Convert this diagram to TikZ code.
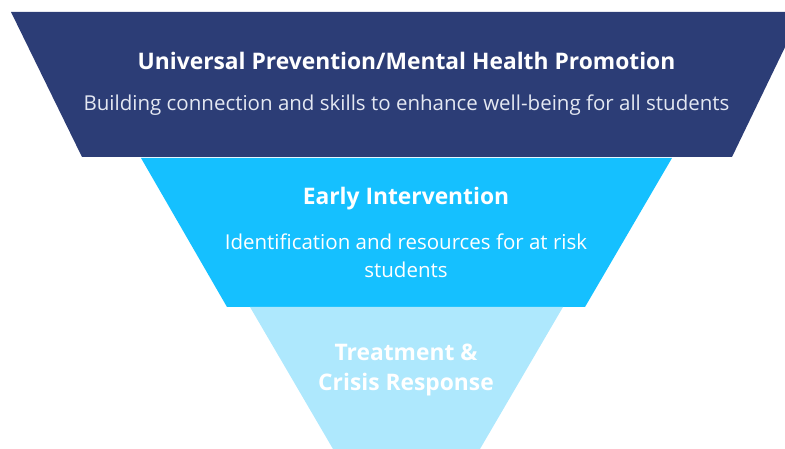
\documentclass[tikz,border=0pt]{standalone}
\usepackage{fontspec}
\setmainfont{Open Sans}
\definecolor{navy}{HTML}{2C3D76}
\definecolor{midblue}{HTML}{15C0FF}
\definecolor{lightblue}{HTML}{AEE8FD}
\definecolor{subtxt}{HTML}{E4E8F2}
\begin{document}
\begin{tikzpicture}[x=1pt,y=-1pt,
  titletxt/.style={text=white,font=\bfseries\fontsize{22.8}{30}\selectfont,inner sep=0pt},
  bodytxt/.style={text=subtxt,font=\fontsize{20.5}{28}\selectfont,inner sep=0pt,align=center}]
\useasboundingbox (0,0) rectangle (785,449);
\fill[navy] (11,12) -- (802,12) -- (732,157) -- (82,157) -- cycle;
\fill[midblue] (141,158) -- (672,158) -- (585,307) -- (227,307) -- cycle;
\fill[lightblue] (250,307) -- (563,307) -- (480,449) -- (333,449) -- cycle;
\node[titletxt] (t1) at (406.5,61) {Universal Prevention/Mental Health Promotion};
\node[bodytxt] (b1) at (406.5,105) {Building connection and skills to enhance well-being for all students};
\node[titletxt] (t2) at (406,199) {Early Intervention};
\node[bodytxt,text=white] (b2) at (406,256) {Identification and resources for at risk\\students};
\node[titletxt,align=center] (t3) at (406,370) {Treatment \&\\Crisis Response};
\end{tikzpicture}
\end{document}
